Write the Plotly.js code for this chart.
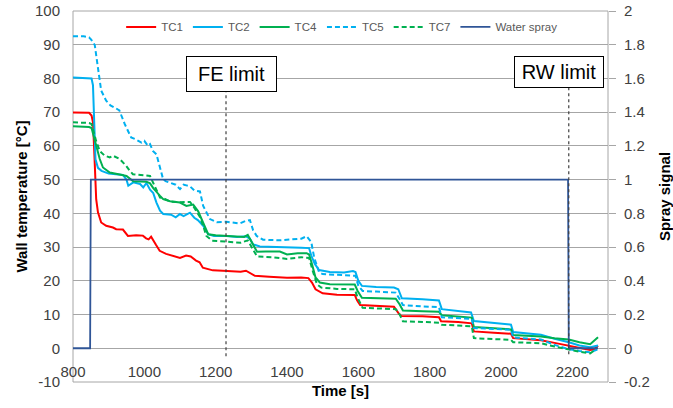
<!DOCTYPE html>
<html>
<head>
<meta charset="utf-8">
<script src="https://cdn.plot.ly/plotly-3.0.1.min.js"></script>
<style>html,body{margin:0;padding:0;background:#fff;}#chart{width:673px;height:408px;}</style>
</head>
<body>
<div id="chart"></div>
<script>
// ---- data ----
const tc1Time = [800,845,852,856,859,862,865,870,879,893,912,921,940,954,977,996,1005,1012,1019,1033,1043,1061,1089,1100,1117,1130,1145,1155,1164,1180,1192,1220,1250,1270,1285,1292,1310,1350,1400,1440,1460,1470,1480,1500,1540,1590,1596,1605,1650,1700,1712,1720,1780,1826,1832,1880,1918,1924,1980,2028,2034,2080,2112,2150,2190,2220,2250,2262,2272];
const tc1Temp = [69.9,69.8,69,67,60,50,44.2,40.3,37.3,36.3,35.8,35.3,35.2,33.3,33.5,33.4,32.6,32.3,33.1,30.6,28.9,28,27,26.8,27.5,27.2,26,25.5,23.9,23.4,23.1,23,22.9,22.7,23,22.6,21.5,21.2,20.9,21,20.8,19.5,17.5,16.3,15.9,15.8,14.3,12.8,12.6,12.3,10.5,9.6,9.5,9.2,8.0,7.8,7.4,5.0,4.6,4.3,3.0,2.7,2.4,1.6,0.8,0,-0.5,-0.3,0.8];

const tc2Time = [800,845,852,856,859,863,870,880,900,920,940,950,955,969,988,997,1006,1016,1025,1034,1044,1053,1075,1088,1100,1110,1128,1140,1150,1165,1179,1195,1230,1260,1285,1296,1305,1324,1380,1440,1462,1468,1478,1490,1520,1560,1585,1592,1600,1610,1650,1700,1712,1722,1780,1826,1834,1880,1916,1924,1980,2028,2034,2080,2112,2150,2190,2220,2250,2272];
const tc2Temp = [80.3,80.2,80,78,68,56,53.5,52.6,51.8,51.6,51.4,50,48.2,49.2,48.7,47.7,49,47,46,43.2,40.8,39.8,39.6,38.8,39.8,39.2,40.2,38.7,38,36.3,33.8,33.3,33.3,33.0,33.2,32.5,30.8,30.2,29.9,29.8,29.7,27.5,25,23.2,22.6,22.5,22.9,22.6,20,18.5,18.2,18.0,17.5,14.8,14.5,14.2,11.6,11.0,10.6,8.1,7.5,7.0,4.8,4.3,4.0,2.8,1.8,0.8,0.3,0.8];

const tc4Time = [800,845,852,858,865,875,884,903,931,950,969,1006,1016,1025,1044,1053,1072,1100,1118,1137,1151,1165,1179,1200,1240,1280,1290,1300,1316,1340,1380,1400,1430,1455,1462,1470,1480,1492,1520,1590,1598,1610,1650,1705,1716,1725,1780,1826,1834,1880,1918,1924,1980,2028,2034,2080,2112,2150,2190,2220,2250,2272];
const tc4Temp = [65.8,65.6,65.3,63,60,56.1,53.6,52.1,51.5,51.1,49.5,49.4,48.9,47.5,45.2,44.2,43.6,43.2,42.2,42.6,40.6,37.2,33.8,33.5,33.3,33.0,33.6,31.5,28.6,28.7,28.7,27.8,28.2,28.2,27.8,25,21,19.5,19.0,18.9,17,15,14.8,14.7,13,11.2,11.0,10.8,9.8,9.5,9.1,6.3,6.0,5.6,3.9,3.7,3.5,3.0,2.6,1.8,1.2,3.3];

const tc5Time = [800,830,845,851,861,870,879,893,905,921,930,945,963,975,992,1000,1010,1016,1024,1034,1040,1047,1053,1061,1072,1088,1100,1110,1118,1128,1140,1156,1165,1184,1203,1230,1268,1285,1296,1305,1315,1333,1380,1420,1440,1455,1468,1476,1490,1500,1540,1592,1600,1612,1650,1705,1716,1725,1780,1826,1834,1880,1918,1924,1980,2028,2034,2080,2112,2150,2190,2220,2250,2272];
const tc5Temp = [92.5,92.5,92.2,91.5,89.9,82.8,76.4,73.4,72,71.1,70.5,66.5,62.5,62,61,61.5,60,60.5,58.5,57.5,55,51.6,50,49.5,49,48.5,47.2,48.5,48.3,48,46.8,46.5,42.2,38.3,37.4,37.5,37.0,37.8,38.0,35,33.3,32.2,32.0,32.2,32.5,33.2,31.5,27,22.5,22,21.7,21.5,18.5,17.0,16.8,16.5,14.5,12.8,12.4,12.2,9.2,9.0,8.7,6.0,5.7,5.5,3.2,2.8,2.6,1.0,-0.3,-0.8,-1.2,-0.3];

const tc7Time = [800,845,852,858,865,875,889,903,912,931,949,960,968,1000,1016,1025,1044,1053,1072,1100,1128,1137,1156,1165,1174,1190,1230,1270,1290,1300,1316,1360,1400,1440,1462,1472,1484,1496,1540,1590,1598,1612,1650,1705,1716,1725,1780,1826,1834,1880,1918,1924,1980,2028,2034,2080,2112,2150,2190,2220,2250,2262];
const tc7Temp = [67.0,66.8,66.5,64,61.4,58.5,57.1,56.6,57.1,56.1,54.1,52.5,51.6,51.3,51.1,49,44.7,44.5,43.5,43.3,43.4,42.2,38.9,36.3,33.3,31.9,31.7,31.3,32.0,30,27.2,27.0,26.5,27.0,26.8,23,19,18,17.6,17.5,15,12.0,11.8,11.6,10,8.0,7.8,7.6,7.0,6.7,6.5,3.0,2.7,2.5,1.8,1.6,1.5,0.5,-0.4,-1.0,-1.5,-0.6];

const sprayTime = [800,848,850,2188,2190,2272];
const spraySignal = [0,0,1,1,0,0];

const feLimitTime = 1229;
const rwLimitTime = 2190;

const xTicks = [800,1000,1200,1400,1600,1800,2000,2200];
const yTicks = [-10,0,10,20,30,40,50,60,70,80,90,100];
const yTickText = ['-10','0','10','20','30','40','50','60','70','80','90','100'];
const y2Ticks = [-0.2,0,0.2,0.4,0.6,0.8,1,1.2,1.4,1.6,1.8,2];
const y2TickText = ['-0.2','0','0.2','0.4','0.6','0.8','1','1.2','1.4','1.6','1.8','2'];

// ---- chart ----
const RED='#FF0000', BLUE='#00B0F0', GREEN='#00B050', NAVY='#2F5597';
const DASH='5px,3px';
const traces = [
  {x:tc1Time, y:tc1Temp, name:'TC1', mode:'lines', line:{color:RED, width:2}},
  {x:tc2Time, y:tc2Temp, name:'TC2', mode:'lines', line:{color:BLUE, width:2}},
  {x:tc4Time, y:tc4Temp, name:'TC4', mode:'lines', line:{color:GREEN, width:2}},
  {x:tc5Time, y:tc5Temp, name:'TC5', mode:'lines', line:{color:BLUE, width:2, dash:DASH}},
  {x:tc7Time, y:tc7Temp, name:'TC7', mode:'lines', line:{color:GREEN, width:2, dash:DASH}},
  {x:sprayTime, y:spraySignal, name:'Water spray', mode:'lines', yaxis:'y2', line:{color:NAVY, width:1.8}}
];

const FONT = 'Liberation Sans, Arial, sans-serif';
const GRID = '#a6a6a6';
const layout = {
  width:673, height:408,
  margin:{l:73, r:65, t:11, b:26},
  paper_bgcolor:'#ffffff', plot_bgcolor:'#ffffff',
  font:{family:FONT, color:'#404040', size:15},
  showlegend:true,
  legend:{orientation:'h', x:0.09, xanchor:'left', y:0.957, yanchor:'middle',
          font:{size:11.5, color:'#595959', family:FONT}, bgcolor:'rgba(0,0,0,0)', itemwidth:30},
  xaxis:{range:[800,2300], tickvals:xTicks, ticktext:xTicks.map(String),
         showgrid:false, zeroline:false, showline:false, ticks:'',
         anchor:'free', position:10/110, ticklabelstandoff:13,
         tickfont:{size:15, color:'#404040'},
         title:{text:'Time [s]', font:{size:15, color:'#000', weight:'bold'}, standoff:6}},
  yaxis:{range:[-10,100], tickvals:yTicks, ticktext:yTickText,
         showgrid:true, gridcolor:GRID, gridwidth:1, zeroline:false, showline:false,
         ticks:'', ticklabelstandoff:12, tickfont:{size:15, color:'#404040'},
         title:{text:'Wall temperature [°C]', font:{size:15, color:'#000', weight:'bold'}, standoff:3}},
  yaxis2:{range:[-0.2,2], tickvals:y2Ticks, ticktext:y2TickText, overlaying:'y', side:'right',
          showgrid:false, zeroline:false, showline:false,
          ticks:'outside', ticklen:7, tickcolor:GRID, tickwidth:1, ticklabelstandoff:5,
          tickfont:{size:15, color:'#404040'},
          title:{text:'Spray signal', font:{size:15, color:'#000', weight:'bold'}, standoff:11}},
  shapes:[
    {type:'rect', xref:'paper', yref:'paper', x0:0, x1:1, y0:0, y1:1, line:{color:GRID, width:1}, layer:'below'},
    {type:'line', xref:'x', yref:'y', x0:feLimitTime, x1:feLimitTime, y0:-2.4, y1:76.3, line:{color:'#404040', width:1.2, dash:'3px,3px'}},
    {type:'line', xref:'x', yref:'y', x0:rwLimitTime, x1:rwLimitTime, y0:-1.8, y1:77.4, line:{color:'#404040', width:1.2, dash:'3px,3px'}}
  ],
  annotations:[
    {text:'FE limit', xref:'x', yref:'y', x:1244, y:81.45, showarrow:false,
     font:{size:20, color:'#000', family:FONT}, bgcolor:'#ffffff', bordercolor:'#000', borderwidth:1, borderpad:0,
     width:89, height:34},
    {text:'RW limit', xref:'x', yref:'y', x:2164, y:82.0, showarrow:false,
     font:{size:20, color:'#000', family:FONT}, bgcolor:'#ffffff', bordercolor:'#000', borderwidth:1, borderpad:0,
     width:88, height:30}
  ]
};

Plotly.newPlot('chart', traces, layout, {staticPlot:true, displayModeBar:false});
</script>
</body>
</html>
